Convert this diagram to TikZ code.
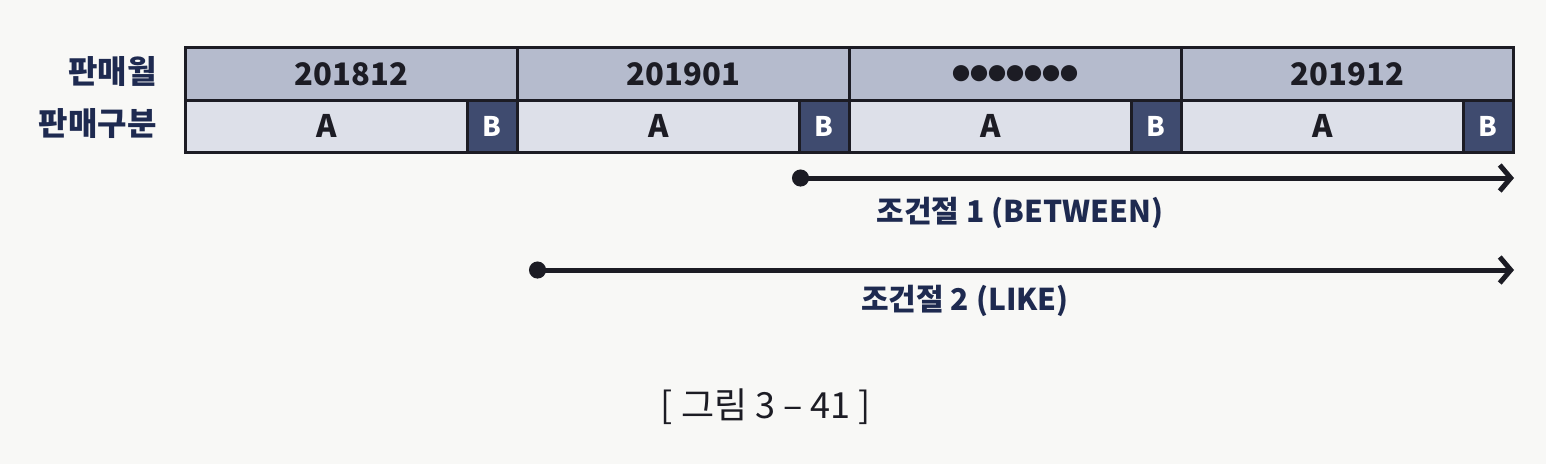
\documentclass[tikz,border=0pt]{standalone}
\usepackage{fontspec}
\setmainfont{Noto Sans CJK KR}
\usetikzlibrary{arrows.meta}
\definecolor{bg}{HTML}{F8F8F6}
\definecolor{toprow}{HTML}{B5BBCD}
\definecolor{botrow}{HTML}{DDE0E9}
\definecolor{bcell}{HTML}{3F4B6F}
\definecolor{navy}{HTML}{1E2A50}
\definecolor{ink}{HTML}{1C1C24}
\begin{document}
\begin{tikzpicture}[x=1pt,y=-1pt,
  cell/.style={draw=ink,line width=2.5pt,anchor=north west,inner sep=0pt,text=ink,
    font=\bfseries\fontsize{31}{31}\selectfont},
  month/.style={cell,fill=toprow,minimum width=332pt,minimum height=53pt},
  acell/.style={cell,fill=botrow,minimum width=282pt,minimum height=52pt},
  bbox/.style={cell,fill=bcell,text=white,font=\bfseries\fontsize{27}{27}\selectfont,minimum width=50pt,minimum height=52pt},
  rowlabel/.style={anchor=east,text=navy,font=\bfseries\fontsize{32}{32}\selectfont},
  conn/.style={line width=5pt,draw=ink,{Circle[length=17pt]}-{Straight Barb[length=11pt,width=26pt,line width=5pt]}},
  clabel/.style={text=navy,font=\bfseries\fontsize{30}{30}\selectfont},
  caption/.style={text=ink,font=\fontsize{36}{36}\selectfont}]
\fill[bg] (0,0) rectangle (1546,464);
\useasboundingbox (0,0) rectangle (1546,464);
% months row
\node[month] (m1) at (184,46) {201812};
\node[month] (m2) at (516,46) {201901};
\node[month] (m3) at (848,46) {\fontsize{18}{18}\selectfont ●●●●●●●};
\node[month] (m4) at (1180,46) {201912};
% A / B row
\node[acell] (a1) at (184,99) {A};
\node[bbox] (b1) at (466,99) {B};
\node[acell] (a2) at (516,99) {A};
\node[bbox] (b2) at (798,99) {B};
\node[acell] (a3) at (848,99) {A};
\node[bbox] (b3) at (1130,99) {B};
\node[acell] (a4) at (1180,99) {A};
\node[bbox] (b4) at (1462,99) {B};
% row labels
\node[rowlabel] (l1) at (160,71) {판매월};
\node[rowlabel] (l2) at (160,124) {판매구분};
% connectors
\coordinate (s1) at (792,178);
\coordinate (e1) at (1514,178);
\coordinate (s2) at (529,270);
\coordinate (e2) at (1514,270);
\draw[conn] (s1) -- (e1);
\draw[conn] (s2) -- (e2);
\node[clabel] (t1) at (1020,213) {조건절 1 (BETWEEN)};
\node[clabel] (t2) at (965,301) {조건절 2 (LIKE)};
\node[caption] (cap) at (766,407) {[ 그림 3 – 41 ]};
\end{tikzpicture}
\end{document}
